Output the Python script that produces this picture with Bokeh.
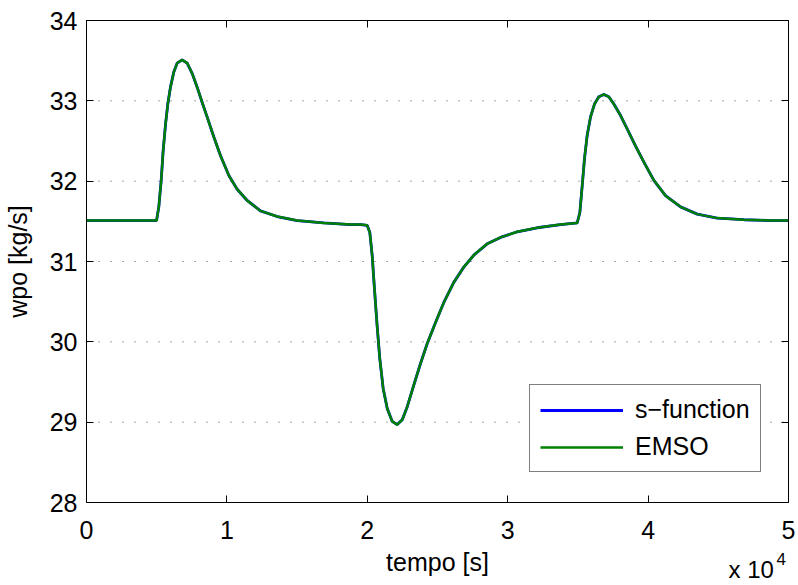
from bokeh.plotting import figure
from bokeh.models import Range1d, FixedTicker, Label, Legend, LegendItem, LinearAxis
from bokeh.embed import file_html
from bokeh.resources import INLINE

# time [s]
tempo = [0, 4990, 5150, 5320, 5460, 5630, 5790, 5980, 6220, 6460, 6810, 7170, 7530, 7880,
         8240, 8590, 9070, 9540, 10140, 10730, 11440, 12390, 13580, 15010, 16900, 18800,
         19520, 19990, 20180, 20350, 20510, 20700, 20890, 21130, 21420, 21770, 22130,
         22490, 22840, 23310, 23790, 24270, 24860, 25450, 26160, 26870, 27590, 28540,
         29490, 30680, 32100, 33760, 34950, 35140, 35310, 35470, 35660, 35900, 36180,
         36490, 36850, 37200, 37560, 38030, 38510, 39100, 39690, 40410, 41240, 42310,
         43500, 44920, 46820, 48720, 50000]
# wpo [kg/s]
wpo = [31.51, 31.51, 31.68, 32.01, 32.38, 32.71, 32.96, 33.17, 33.36, 33.47, 33.51, 33.47,
       33.34, 33.17, 32.98, 32.80, 32.55, 32.32, 32.07, 31.90, 31.76, 31.63, 31.56, 31.51,
       31.48, 31.46, 31.46, 31.45, 31.36, 31.07, 30.66, 30.20, 29.79, 29.42, 29.17, 29.01,
       28.97, 29.03, 29.19, 29.46, 29.73, 29.98, 30.24, 30.49, 30.74, 30.93, 31.08, 31.22,
       31.30, 31.37, 31.42, 31.46, 31.48, 31.61, 31.95, 32.28, 32.57, 32.80, 32.96, 33.05,
       33.08, 33.05, 32.96, 32.82, 32.65, 32.44, 32.24, 32.01, 31.82, 31.68, 31.59, 31.54,
       31.52, 31.51, 31.51]

x_ticks = [0, 10000, 20000, 30000, 40000, 50000]
x_tick_labels = ["0", "1", "2", "3", "4", "5"]
y_ticks = [28, 29, 30, 31, 32, 33, 34]
series_names = ["s\u2212function", "EMSO"]
x_label = "tempo [s]"
y_label = "wpo [kg/s]"
exp_text, exp_power = "x 10", "4"

FONT = "Liberation Sans"
W, H = 798, 585
# axes box in canvas pixels
BOX_L, BOX_R, BOX_T, BOX_B = 86, 788, 20, 502

xmin, xmax = x_ticks[0], x_ticks[-1]
ymin, ymax = y_ticks[0], y_ticks[-1]
sx = (BOX_R - BOX_L) / (xmax - xmin)
sy = (BOX_B - BOX_T) / (ymax - ymin)
x_start = xmin - BOX_L / sx
x_end = xmax + (W - BOX_R) / sx
y_start = ymin - (H - BOX_B) / sy
y_end = ymax + BOX_T / sy


def px_to_x(px):
    return x_start + px / sx


def px_to_y(py):
    return y_end - py / sy


p = figure(width=W, height=H, output_backend="svg", toolbar_location=None,
           x_range=Range1d(x_start, x_end), y_range=Range1d(y_start, y_end),
           min_border_left=0, min_border_right=0, min_border_top=0, min_border_bottom=0,
           x_axis_location=None, y_axis_location=None)
p.background_fill_color = "white"
p.border_fill_color = "white"
p.outline_line_color = None
p.xgrid.visible = False
p.ygrid.visible = False

# dotted horizontal grid
gy = y_ticks[1:-1]
p.segment(x0=[xmin] * len(gy), x1=[xmax] * len(gy), y0=gy, y1=gy,
          line_color="black", line_alpha=0.7, line_width=1, line_dash="1 11")

r1 = p.line(tempo, wpo, line_color="#0000ff", line_width=2.8)
r2 = p.line(tempo, wpo, line_color="#008000", line_width=2.5)


def style(ax):
    ax.major_tick_in = 7
    ax.major_tick_out = 0
    ax.minor_tick_in = 0
    ax.minor_tick_out = 0
    ax.axis_line_color = "black"
    ax.axis_line_width = 1
    ax.major_tick_line_color = "black"
    ax.major_label_text_font = FONT
    ax.major_label_text_font_size = "25px"
    ax.major_label_text_color = "black"
    ax.axis_label_text_font = FONT
    ax.axis_label_text_font_size = "25px"
    ax.axis_label_text_font_style = "normal"
    ax.axis_label_text_color = "black"


xb = LinearAxis(ticker=FixedTicker(ticks=x_ticks), fixed_location=ymin, bounds=(xmin, xmax),
                axis_label=x_label, major_label_standoff=18, axis_label_standoff=6)
style(xb)
xb.major_label_overrides = {t: l for t, l in zip(x_ticks, x_tick_labels)}
p.add_layout(xb, "below")

yl = LinearAxis(ticker=FixedTicker(ticks=y_ticks), fixed_location=xmin, bounds=(ymin, ymax),
                axis_label=y_label, major_label_standoff=9, axis_label_standoff=15)
style(yl)
p.add_layout(yl, "left")

xt = LinearAxis(ticker=FixedTicker(ticks=x_ticks), fixed_location=ymax, bounds=(xmin, xmax),
                major_label_standoff=0)
style(xt)
xt.major_label_overrides = {t: "" for t in x_ticks}
p.add_layout(xt, "above")

yr = LinearAxis(ticker=FixedTicker(ticks=y_ticks), fixed_location=xmax, bounds=(ymin, ymax),
                major_label_standoff=0)
style(yr)
yr.major_label_overrides = {t: "" for t in y_ticks}
p.add_layout(yr, "right")

legend = Legend(items=[LegendItem(label=series_names[0], renderers=[r1]),
                       LegendItem(label=series_names[1], renderers=[r2])],
                location=(529, 113), glyph_width=83, glyph_height=20, label_standoff=12,
                padding=10, spacing=8, margin=0,
                border_line_color="black", border_line_width=1,
                background_fill_color="white", background_fill_alpha=1,
                label_text_font=FONT, label_text_font_size="25px", label_text_color="black")
p.add_layout(legend, "center")

# "x 10^4" multiplier below the right end of the x axis
p.add_layout(Label(x=px_to_x(728), y=px_to_y(555), text=exp_text, text_font=FONT,
                   text_font_size="24px", text_color="black", text_baseline="top",
                   text_align="left"))
p.add_layout(Label(x=px_to_x(776), y=px_to_y(552), text=exp_power, text_font=FONT,
                   text_font_size="17px", text_color="black", text_baseline="top",
                   text_align="left"))

open("out.html", "w").write(file_html(p, INLINE))
